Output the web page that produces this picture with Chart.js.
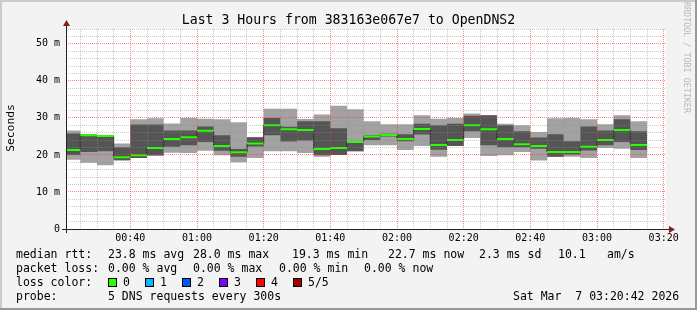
<!DOCTYPE html>
<html>
<head>
<meta charset="utf-8">
<script src="https://cdn.jsdelivr.net/npm/chart.js@4/dist/chart.umd.min.js"></script>
<style>
  body { margin: 0; background: #f3f3f3; }
  #wrap { position: relative; width: 697px; height: 310px; }
  #wrap canvas { position: absolute; left: 0; top: 0; }
  .txt { position: absolute; font-family: 'DejaVu Sans Mono', monospace; color: #000; white-space: pre; }
  .leg { font-size: 11.5px; line-height: 14px; }
  .sq { position: absolute; width: 7px; height: 7px; border: 1px solid #000; }
</style>
</head>
<body>
<div id="wrap">
  <canvas id="chart" width="697" height="310"></canvas>
  <div class="txt" style="left:0;top:12px;width:697px;text-align:center;font-size:13.2px;line-height:16px;">Last 3 Hours from 383163e067e7 to OpenDNS2</div>
  <div class="txt" style="left:-19px;top:120px;width:60px;text-align:center;font-size:11.3px;line-height:16px;transform:rotate(-90deg);">Seconds</div>
  <div class="txt" style="left:632px;top:52px;width:110px;text-align:center;font-size:8.4px;line-height:10px;color:#b8b8b8;transform:rotate(90deg);">RRDTOOL / TOBI OETIKER</div>
  <div id="legend"></div>
</div>
<script>
// bar edges (5 min steps), last entry is the end of the last step
const stepTimes = ['00:20:42', '00:25', '00:30', '00:35', '00:40', '00:45', '00:50', '00:55',
  '01:00', '01:05', '01:10', '01:15', '01:20', '01:25', '01:30', '01:35', '01:40', '01:45',
  '01:50', '01:55', '02:00', '02:05', '02:10', '02:15', '02:20', '02:25', '02:30', '02:35',
  '02:40', '02:45', '02:50', '02:55', '03:00', '03:05', '03:10', '03:15'];
const rangeStart = '00:20:42';
const rangeEnd = '03:20:42';

// ms, sorted pings: lightTop = max, darkTop = 4th, median, darkBottom = 2nd, lightBottom = min
const lightTop = [26.6, 25.5, 25.3, 23.1, 29.6, 29.9, 28.5, 30.0, 29.8, 29.6, 28.8, 24.8, 32.5, 32.5,
  29.7, 30.9, 33.3, 32.3, 29.1, 28.3, 28.3, 30.7, 29.8, 30.0, 31.2, 30.7, 28.4, 28.0, 26.2, 29.9,
  30.0, 29.6, 28.3, 30.7, 29.1];
const darkTop = [25.8, 25.5, 25.3, 22.1, 28.2, 28.2, 26.6, 26.6, 27.7, 25.3, 21.6, 24.8, 30.0, 27.6,
  29.1, 29.1, 27.2, 23.7, 25.3, 25.7, 25.6, 28.4, 28.0, 28.4, 30.6, 30.7, 28.0, 26.4, 24.7, 25.6,
  23.7, 27.7, 26.6, 29.6, 26.4];
const medianRtt = [21.3, 25.3, 25.1, 19.4, 19.9, 21.9, 24.3, 24.8, 26.5, 22.4, 20.7, 23.1, 28.0, 26.9,
  26.7, 21.6, 21.9, 23.5, 25.0, 25.4, 24.3, 27.0, 22.7, 24.0, 28.0, 26.9, 24.3, 22.9, 22.4, 20.8,
  20.8, 22.2, 24.0, 26.7, 22.7];
const darkBottom = [20.0, 20.8, 21.0, 18.6, 19.2, 19.9, 22.2, 22.6, 23.5, 21.1, 19.5, 22.3, 25.3, 23.6,
  23.9, 19.9, 20.0, 21.0, 24.0, 25.0, 23.7, 25.5, 21.4, 22.4, 26.4, 22.6, 22.1, 22.1, 21.7, 19.5,
  20.1, 21.2, 22.6, 23.5, 21.3];
const lightBottom = [18.7, 17.9, 17.2, 18.4, 19.2, 19.7, 20.6, 20.5, 21.1, 19.9, 18.0, 19.2, 21.0, 21.0,
  20.5, 19.5, 20.0, 21.0, 22.6, 22.6, 21.3, 22.4, 19.5, 22.4, 24.6, 19.7, 19.9, 20.8, 18.5, 19.5,
  19.5, 19.2, 21.9, 21.7, 19.2];

const yLabelValues = [0, 10, 20, 30, 40, 50];
const yMax = 54;
const xLabelTimes = ['00:40', '01:00', '01:20', '01:40', '02:00', '02:20', '02:40', '03:00', '03:20'];

const lossLabels = ['0', '1', '2', '3', '4', '5/5'];
const lossColors = ['#26ff00', '#00b8ff', '#0059ff', '#7e00ff', '#ff0000', '#a10000'];

function toMin(t) {
  const p = t.split(':').map(Number);
  return p[0] * 60 + p[1] + (p[2] || 0) / 60;
}
function fmt(m) {
  const h = Math.floor(m / 60), mm = Math.round(m % 60);
  return String(h).padStart(2, '0') + ':' + String(mm).padStart(2, '0');
}
// stepped points: value held from its start edge until the next edge
function stepPoints(vals) {
  const pts = vals.map((v, i) => ({ x: toMin(stepTimes[i]), y: v }));
  pts.push({ x: toMin(stepTimes[vals.length]), y: vals[vals.length - 1] });
  return pts;
}
// flat pieces only, no vertical joins
function flatPoints(vals) {
  const pts = [];
  vals.forEach((v, i) => {
    const a = toMin(stepTimes[i]), b = toMin(stepTimes[i + 1]);
    pts.push({ x: a, y: v }, { x: b, y: v }, { x: b, y: null });
  });
  return pts;
}

const xGrid = [];
for (let m = 25; m <= 200; m += 5) xGrid.push(m);
const yGrid = [];
for (let v = 0; v <= yMax; v += 2) yGrid.push(v);

const minorCol = 'rgba(140,140,140,0.45)';
const majorCol = 'rgba(255,50,50,0.6)';

const frame = {
  id: 'frame',
  beforeDraw(chart) {
    const ctx = chart.ctx, a = chart.chartArea;
    ctx.save();
    ctx.fillStyle = '#f3f3f3';
    ctx.fillRect(0, 0, 697, 310);
    ctx.fillStyle = '#cbcbcb';
    ctx.fillRect(0, 0, 697, 2);
    ctx.fillRect(0, 0, 2, 310);
    ctx.fillStyle = '#999999';
    ctx.fillRect(0, 308, 697, 2);
    ctx.fillRect(695, 0, 2, 310);
    ctx.fillStyle = '#ffffff';
    ctx.fillRect(a.left, a.top, a.right - a.left, a.bottom - a.top);
    ctx.restore();
  },
  afterDraw(chart) {
    const ctx = chart.ctx, a = chart.chartArea;
    const x0 = a.left + 0.5, y0 = a.bottom + 0.5;
    ctx.save();
    ctx.strokeStyle = '#222';
    ctx.lineWidth = 1;
    ctx.beginPath();
    ctx.moveTo(x0, a.bottom + 4);
    ctx.lineTo(x0, a.top - 4);
    ctx.moveTo(a.left - 4, y0);
    ctx.lineTo(a.right + 4, y0);
    ctx.stroke();
    ctx.fillStyle = '#8b1a1a';
    ctx.beginPath();
    ctx.moveTo(x0 - 3.5, a.top - 3);
    ctx.lineTo(x0 + 3.5, a.top - 3);
    ctx.lineTo(x0, a.top - 9);
    ctx.closePath();
    ctx.fill();
    ctx.beginPath();
    ctx.moveTo(a.right + 3, y0 - 3.5);
    ctx.lineTo(a.right + 3, y0 + 3.5);
    ctx.lineTo(a.right + 9, y0);
    ctx.closePath();
    ctx.fill();
    ctx.restore();
  }
};

const none = 'rgba(0,0,0,0)';
new Chart(document.getElementById('chart'), {
  type: 'line',
  data: {
    datasets: [
      { data: flatPoints(medianRtt), borderColor: '#26ff00', borderWidth: 2, pointRadius: 0, fill: false, spanGaps: false },
      { data: stepPoints(medianRtt), borderColor: '#202020', borderWidth: 1, stepped: true, pointRadius: 0, fill: false },
      { data: stepPoints(darkTop), borderColor: none, borderWidth: 1, stepped: true, pointRadius: 0,
        fill: { target: 3 }, backgroundColor: '#555555' },
      { data: stepPoints(darkBottom), borderColor: none, borderWidth: 1, stepped: true, pointRadius: 0, fill: false },
      { data: stepPoints(lightTop), borderColor: none, borderWidth: 1, stepped: true, pointRadius: 0,
        fill: { target: 5 }, backgroundColor: '#a2a2a2' },
      { data: stepPoints(lightBottom), borderColor: none, borderWidth: 1, stepped: true, pointRadius: 0, fill: false }
    ]
  },
  options: {
    responsive: false,
    animation: false,
    devicePixelRatio: 1,
    layout: { padding: { left: 0, top: 29, right: 31, bottom: 0 } },
    plugins: { legend: { display: false }, tooltip: { enabled: false }, title: { display: false } },
    scales: {
      x: {
        type: 'linear',
        min: toMin(rangeStart),
        max: toMin(rangeEnd),
        afterBuildTicks: s => { s.ticks = xGrid.map(v => ({ value: v })); },
        afterFit: s => { s.height = 81; },
        ticks: {
          autoSkip: false, maxRotation: 0, padding: 3, color: '#000',
          font: { family: 'DejaVu Sans Mono', size: 10 },
          callback: v => xLabelTimes.includes(fmt(v)) && v % 20 === 0 ? fmt(v) : ''
        },
        grid: { z: 1, drawTicks: false, lineWidth: 1, color: c => (c.tick && c.tick.value % 20 === 0) ? majorCol : minorCol },
        border: { display: false, dash: [1, 1] }
      },
      y: {
        min: 0,
        max: yMax,
        afterBuildTicks: s => { s.ticks = yGrid.map(v => ({ value: v })); },
        afterFit: s => { s.width = 66; },
        ticks: {
          autoSkip: false, padding: 6, color: '#000',
          font: { family: 'DejaVu Sans Mono', size: 10 },
          callback: v => yLabelValues.includes(v) ? (v === 0 ? '0' : v + ' m') : ''
        },
        grid: { z: 1, drawTicks: false, lineWidth: 1, color: c => (c.tick && c.tick.value % 10 === 0) ? majorCol : minorCol },
        border: { display: false, dash: [1, 1] }
      }
    }
  },
  plugins: [frame]
});

// legend block
const legend = document.getElementById('legend');
function put(text, left, top) {
  const d = document.createElement('div');
  d.className = 'txt leg';
  d.style.left = left + 'px';
  d.style.top = top + 'px';
  d.textContent = text;
  legend.appendChild(d);
}
put('median rtt:', 16, 247);
put('23.8 ms avg', 108, 247);
put('28.0 ms max', 193, 247);
put('19.3 ms min', 292, 247);
put('22.7 ms now', 388, 247);
put('2.3 ms sd', 479, 247);
put('10.1', 558, 247);
put('am/s', 607, 247);
put('packet loss:', 16, 261);
put('0.00 % avg', 108, 261);
put('0.00 % max', 193, 261);
put('0.00 % min', 279, 261);
put('0.00 % now', 364, 261);
put('loss color:', 16, 275);
lossLabels.forEach((lab, i) => {
  const s = document.createElement('div');
  s.className = 'sq';
  s.style.left = (108 + i * 37) + 'px';
  s.style.top = '278px';
  s.style.background = lossColors[i];
  legend.appendChild(s);
  put(lab, 123 + i * 37, 275);
});
put('probe:', 16, 289);
put('5 DNS requests every 300s', 108, 289);
put('Sat Mar  7 03:20:42 2026', 513, 289);
</script>
</body>
</html>
